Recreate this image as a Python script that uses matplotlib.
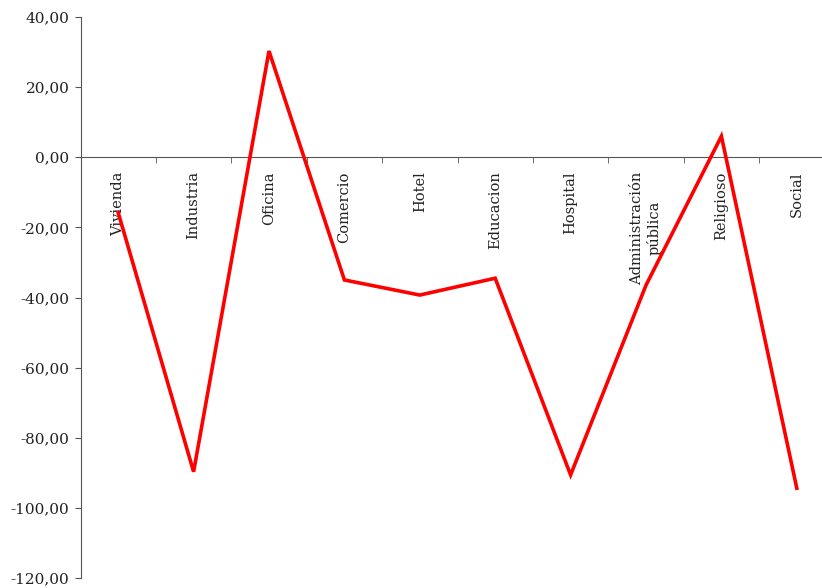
import matplotlib
matplotlib.use("Agg")
import matplotlib.pyplot as plt
from matplotlib.ticker import FuncFormatter, FixedLocator

categories = ["Vivienda", "Industria", "Oficina", "Comercio", "Hotel", "Educacion",
              "Hospital", "Administración\npública", "Religioso", "Social"]
values = [-15.8, -89.7, 30.3, -35.0, -39.3, -34.5, -90.6, -36.5, 6.0, -94.4]

plt.rcParams['font.family'] = ['DejaVu Serif']

fig = plt.figure(figsize=(8.22, 5.88), dpi=100)
ax = fig.add_axes([80.5/822, 10/588, 754/822, 561/588])

x = list(range(len(categories)))
ax.plot(x, values, color='#ff0000', linewidth=2.6, solid_joinstyle='miter', zorder=3,
        clip_on=False)

ax.set_xlim(-0.5, len(categories) - 0.5)
ax.set_ylim(-120, 40)
ax.set_yticks(range(-120, 41, 20))
ax.yaxis.set_major_formatter(FuncFormatter(lambda v, p: f"{v:.2f}".replace('.', ',')))

for s in ['top', 'right']:
    ax.spines[s].set_visible(False)
ax.spines['bottom'].set_position(('data', 0))
ax.spines['bottom'].set_color('#555555')
ax.spines['left'].set_color('#555555')
ax.spines['bottom'].set_zorder(2)

ax.set_xticks(x)
ax.set_xticklabels(categories, rotation=90, va='top', ha='center', fontsize=10.5,
                   multialignment='center', color='#222222')
ax.tick_params(axis='x', which='major', length=0, pad=10)
ax.xaxis.set_minor_locator(FixedLocator([i - 0.5 for i in range(len(categories) + 1)]))
ax.tick_params(axis='x', which='minor', length=4, direction='out', color='#555555')
ax.tick_params(axis='y', length=4, direction='out', color='#555555', labelsize=11, pad=4,
               labelcolor='#222222')

fig.savefig("out.png", dpi=100)
